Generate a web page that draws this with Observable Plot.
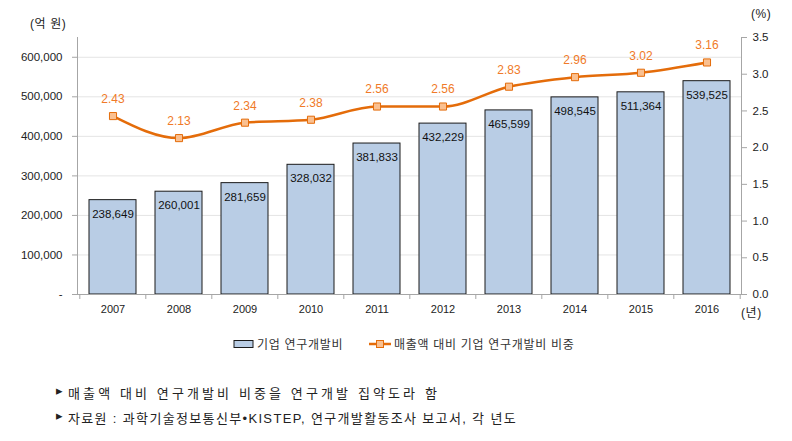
<!DOCTYPE html>
<html><head><meta charset="utf-8">
<script src="https://cdn.jsdelivr.net/npm/d3@7"></script>
<script src="https://cdn.jsdelivr.net/npm/@observablehq/plot@0.6"></script>
<style>
body{margin:0;background:#fff;font-family:"Liberation Sans","Noto Sans CJK KR",sans-serif;}
#wrap{position:relative;width:792px;height:441px;}
.lab{position:absolute;font-size:12px;color:#222;white-space:nowrap;letter-spacing:0.6px;}
.legend{position:absolute;top:335px;left:233px;font-size:12px;color:#333;display:flex;align-items:center;letter-spacing:0.7px;}
.legend .item{display:flex;align-items:center;}
.note{position:absolute;font-size:13px;color:#222;white-space:nowrap;letter-spacing:0px;}
</style></head>
<body><div id="wrap"></div>
<script>
const years = ["2007","2008","2009","2010","2011","2012","2013","2014","2015","2016"];
const rdSpend = [238649,260001,281659,328032,381833,432229,465599,498545,511364,539525];
const rdRatio = [2.43,2.13,2.34,2.38,2.56,2.56,2.83,2.96,3.02,3.16];
const leftTicks = [0,100000,200000,300000,400000,500000,600000];
const rightTicks = [0,0.5,1.0,1.5,2.0,2.5,3.0,3.5];
const leftMax = 650000, rightMax = 3.5;
const k = leftMax / rightMax;

const data = years.map((y,i)=>({year:y, spend:rdSpend[i], ratio:rdRatio[i]}));
const W = 792, H = 320, mL = 77, mR = 51;
const half = (W - mL - mR) / years.length / 2;
const orange = "#e46c0a";
const fmt = d3.format(",");

const chart = Plot.plot({
  width: W, height: H,
  marginLeft: mL, marginRight: mR, marginTop: 37, marginBottom: 26,
  style: {fontFamily: '"Liberation Sans","Noto Sans CJK KR",sans-serif', fontSize: "11px", color: "#222", background: "#fff"},
  x: {type: "band", domain: years, paddingInner: 0.29, paddingOuter: 0.145},
  y: {domain: [0, leftMax]},
  marks: [
    Plot.gridY(leftTicks.slice(1), {stroke: "#e4e4e4", strokeOpacity: 1}),
    Plot.barY(data, {x: "year", y: "spend", fill: "#b9cde5", stroke: "#1a1a1a", strokeWidth: 1}),
    Plot.text(data, {x: "year", y: "spend", text: d => fmt(d.spend), dy: 14, fill: "#111", fontSize: 11.5}),
    Plot.frame({anchor: "left", stroke: "#a6a6a6"}),
    Plot.frame({anchor: "right", stroke: "#a6a6a6"}),
    Plot.ruleY([0], {stroke: "#a6a6a6"}),
    Plot.ruleX(years, {x: d => d, dx: -half, y1: 0, y2: 0, insetBottom: -5, stroke: "#a6a6a6"}),
    Plot.ruleX(years.slice(-1), {x: d => d, dx: half, y1: 0, y2: 0, insetBottom: -5, stroke: "#a6a6a6"}),
    Plot.axisY({ticks: leftTicks, tickFormat: d => d === 0 ? "-" : fmt(d), tickSize: 5, tickPadding: 10, stroke: "#a6a6a6", fill: "#222", label: null, fontSize: 11.5}),
    Plot.axisY({anchor: "right", ticks: rightTicks.map(t => t * k), tickFormat: d => (d / k).toFixed(1), tickSize: 5, tickPadding: 6, stroke: "#a6a6a6", fill: "#222", label: null, fontSize: 11.5}),
    Plot.axisX({tickSize: 0, tickPadding: 11, label: null, fill: "#222", fontSize: 11}),
    Plot.line(data, {x: "year", y: d => d.ratio * k, stroke: orange, strokeWidth: 2.5, curve: "monotone-x"}),
    Plot.dot(data, {x: "year", y: d => d.ratio * k, symbol: "square", r: 4, fill: "#fac090", stroke: orange, strokeWidth: 1}),
    Plot.text(data, {x: "year", y: d => d.ratio * k, text: d => d.ratio.toFixed(2), dy: -17, fill: "#f07a28", fontSize: 12})
  ]
});
const wrap = document.getElementById("wrap");
wrap.appendChild(chart);
chart.style.position = "absolute"; chart.style.left = "0"; chart.style.top = "0";

function lab(txt, x, y, cls) {
  const d = document.createElement("div");
  d.className = cls || "lab"; d.textContent = txt;
  d.style.left = x + "px"; d.style.top = y + "px";
  wrap.appendChild(d); return d;
}
lab("(억 원)", 30, 14);
lab("(%)", 751, 7);
lab("(년)", 741, 303);

const leg = document.createElement("div");
leg.className = "legend";
leg.innerHTML = `<div class="item"><svg width="22" height="10"><rect x="1" y="1.5" width="19" height="7" fill="#b9cde5" stroke="#1a1a1a"/></svg><span style="margin-left:2px">기업 연구개발비</span></div>`;
wrap.appendChild(leg);
const leg2 = document.createElement("div");
leg2.className = "legend"; leg2.style.left = "368px";
leg2.innerHTML = `<div class="item"><svg width="24" height="10"><line x1="1" y1="5" x2="23" y2="5" stroke="${orange}" stroke-width="2.5"/><rect x="8.5" y="1.5" width="7" height="7" fill="#fac090" stroke="${orange}"/></svg><span style="margin-left:2px">매출액 대비 기업 연구개발비 비중</span></div>`;
wrap.appendChild(leg2);

function fitNote(el, target) {
  const n = el.textContent.length;
  const w = el.getBoundingClientRect().width;
  el.style.letterSpacing = Math.max(0, (target - w) / n) + "px";
}
lab("▸", 56, 383, "note");
lab("▸", 56, 408, "note");
const n1 = lab("매출액 대비 연구개발비 비중을 연구개발 집약도라 함", 68, 383, "note");
const n2 = lab("자료원 : 과학기술정보통신부•KISTEP, 연구개발활동조사 보고서, 각 년도", 68, 408, "note");
fitNote(n1, 440 - 68);
fitNote(n2, 517 - 68);
</script></body></html>
